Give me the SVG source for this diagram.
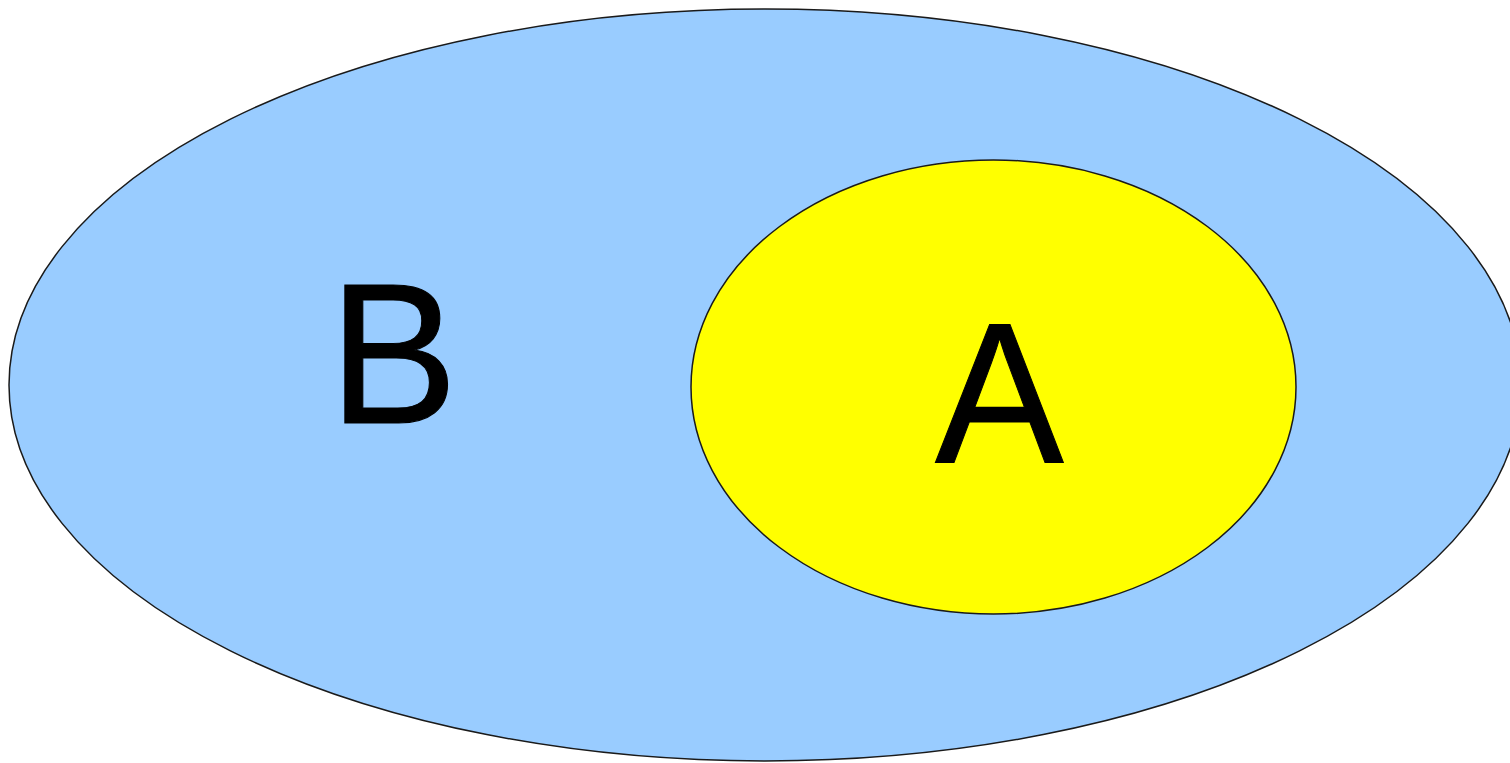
<svg xmlns="http://www.w3.org/2000/svg" width="1510" height="763" viewBox="0 0 1510 763">
<style>
.set{stroke:#1a1a1a;stroke-width:1.5}
.lbl{font-family:"Liberation Sans",Arial,sans-serif;font-size:193px;fill:#000;stroke:#000;stroke-width:1}
</style>
<rect width="1510" height="763" fill="#fff"/>
<g id="B">
<ellipse class="set" cx="765" cy="385" rx="756" ry="376" fill="#99ccff"/>
<text class="lbl" transform="translate(329 423) scale(1 1.04)" x="0" y="0">B</text>
</g>
<g id="A">
<ellipse class="set" cx="993.5" cy="387" rx="302.5" ry="227" fill="#ffff00"/>
<text class="lbl" transform="translate(935 462) scale(1 1.04)" x="0" y="0">A</text>
</g>
<g id="connectors"/>
</svg>
